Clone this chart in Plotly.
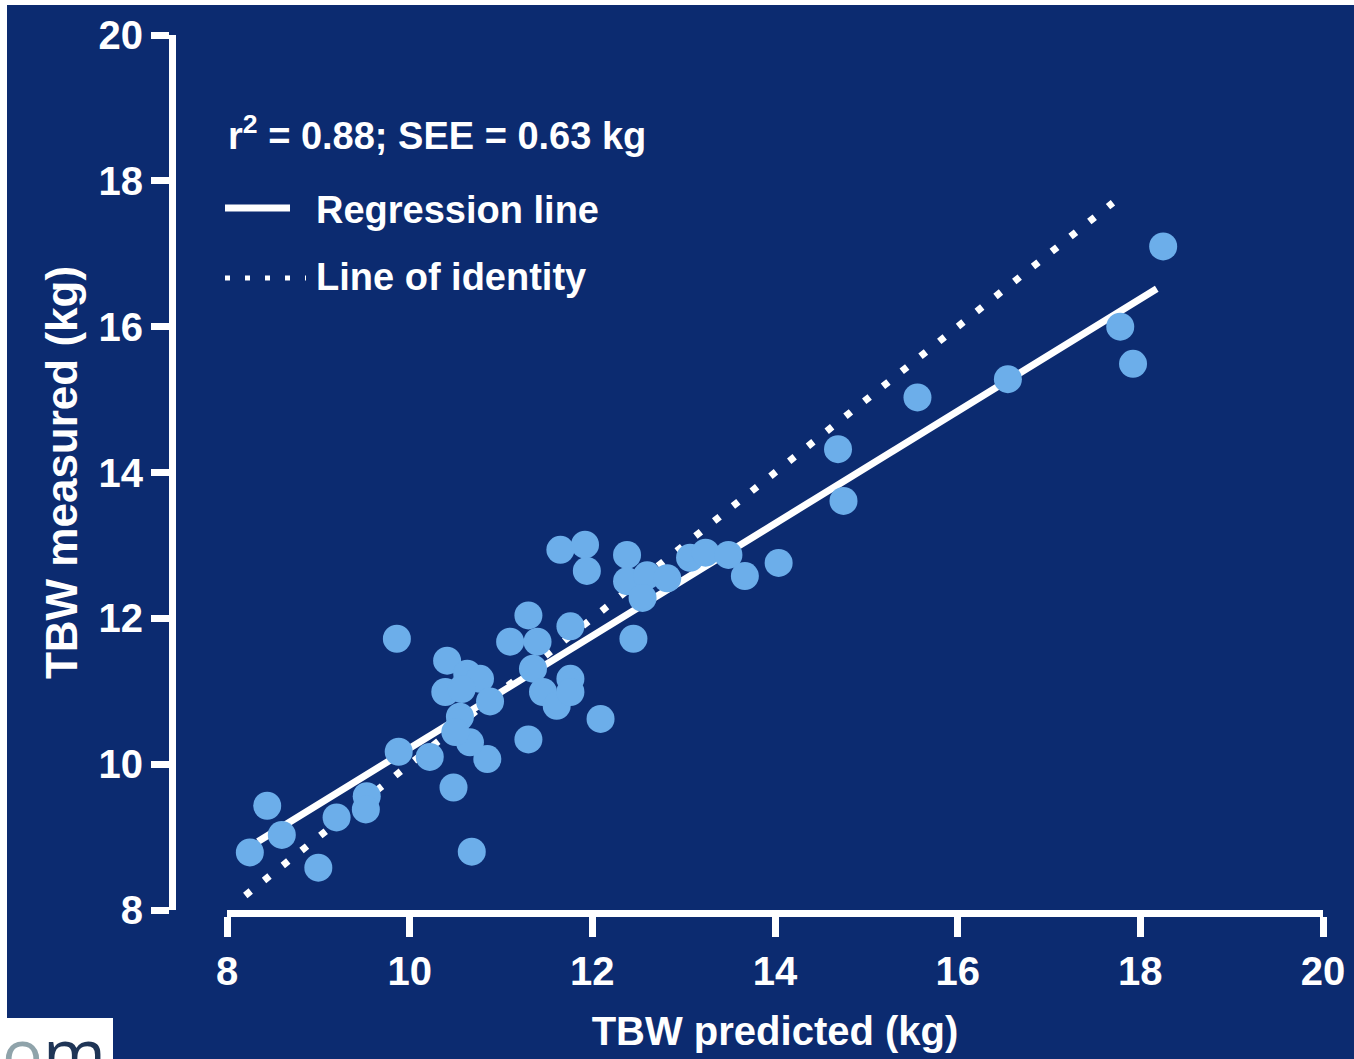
import plotly.graph_objects as go

# ---- data ----
x_pred = [8.25, 8.44, 8.60, 9.00, 9.20, 9.53, 9.52, 9.88, 10.22, 9.86,
          10.48, 10.68, 10.85, 10.41, 10.63, 10.77, 10.39, 10.88, 10.55, 10.66,
          10.57, 10.50, 11.10, 11.30, 11.40, 11.35, 11.46, 11.76, 11.61, 11.76,
          11.30, 11.76, 12.09, 11.65, 11.92, 11.94, 12.45, 12.38, 12.38, 12.60,
          12.55, 12.82, 13.07, 13.24, 13.49, 13.67, 14.04, 14.69, 14.75, 15.56,
          16.55, 17.78, 17.92, 18.25]
y_meas = [8.79, 9.43, 9.03, 8.58, 9.27, 9.56, 9.38, 10.17, 10.10, 11.72,
          9.68, 8.80, 10.07, 11.42, 11.24, 11.17, 10.99, 10.86, 10.65, 10.30,
          11.03, 10.44, 11.68, 12.04, 11.68, 11.31, 10.99, 11.17, 10.80, 10.99,
          10.34, 11.89, 10.62, 12.94, 13.01, 12.65, 11.72, 12.87, 12.51, 12.59,
          12.28, 12.55, 12.83, 12.90, 12.87, 12.58, 12.76, 14.32, 13.61, 15.03,
          15.28, 16.00, 15.49, 17.10]

reg_x = [8.34, 18.18]
reg_y = [8.94, 16.52]
ident_x = [8.2, 17.7]
ident_y = [8.2, 17.7]

tick_vals = [8, 10, 12, 14, 16, 18, 20]

stats_text = "r<sup>2</sup> = 0.88; SEE = 0.63 kg"
reg_name = "Regression line"
ident_name = "Line of identity"
x_title = "TBW predicted (kg)"
y_title = "TBW measured (kg)"

# ---- style ----
NAVY = "#0c2b70"
DOT = "#6caeea"
WHITE = "#ffffff"
FONT = "Liberation Sans, Arial, sans-serif"

W, H = 1354, 1059
L, R, T, B = 172, 31, 35, 149
PW = W - L - R
PH = H - T - B


def px(xp):
    return (xp - L) / PW


def py(yp):
    return (H - B - yp) / PH


fig = go.Figure()

fig.add_trace(go.Scatter(
    x=ident_x, y=ident_y, mode="lines", name=ident_name,
    line=dict(color=WHITE, width=7, dash="7px,17px"), showlegend=False,
    hoverinfo="skip"))
fig.add_trace(go.Scatter(
    x=reg_x, y=reg_y, mode="lines", name=reg_name,
    line=dict(color=WHITE, width=7), showlegend=False, hoverinfo="skip"))
fig.add_trace(go.Scatter(
    x=x_pred, y=y_meas, mode="markers", name="Subjects",
    marker=dict(color=DOT, size=28, line=dict(width=0)), showlegend=False))

axis_common = dict(
    showgrid=False, zeroline=False, showline=True, linecolor=WHITE,
    linewidth=7, ticks="outside", tickcolor=WHITE, tickwidth=7,
    tickvals=tick_vals, ticktext=[str(v) for v in tick_vals],
    range=[8, 20],
    tickfont=dict(family=FONT, size=40, color=WHITE, weight="bold"),
)

fig.update_layout(
    width=W, height=H,
    margin=dict(l=L, r=R, t=T, b=B, autoexpand=False),
    paper_bgcolor=NAVY, plot_bgcolor=NAVY,
    xaxis=dict(axis_common, domain=[55 / PW, 1], ticklen=20,
               ticklabelstandoff=0,
               title=dict(text=x_title, standoff=27,
                          font=dict(family=FONT, size=40, color=WHITE,
                                    weight="bold"))),
    yaxis=dict(axis_common, anchor="free", position=0, ticklen=18,
               ticklabelstandoff=0,
               title=dict(text=y_title, standoff=6,
                          font=dict(family=FONT, size=44, color=WHITE,
                                    weight="bold"))),
    showlegend=False,
)

# manual legend block
fig.add_annotation(x=px(226), y=py(133), xref="paper", yref="paper",
                   text=stats_text, showarrow=False, xanchor="left",
                   yanchor="middle",
                   font=dict(family=FONT, size=38, color=WHITE, weight="bold"))
fig.add_annotation(x=px(314), y=py(210), xref="paper", yref="paper",
                   text=reg_name, showarrow=False, xanchor="left",
                   yanchor="middle",
                   font=dict(family=FONT, size=38, color=WHITE, weight="bold"))
fig.add_annotation(x=px(314), y=py(277), xref="paper", yref="paper",
                   text=ident_name, showarrow=False, xanchor="left",
                   yanchor="middle",
                   font=dict(family=FONT, size=38, color=WHITE, weight="bold"))
fig.add_shape(type="line", xref="paper", yref="paper",
              x0=px(225), x1=px(290), y0=py(208), y1=py(208),
              line=dict(color=WHITE, width=7))
fig.add_shape(type="line", xref="paper", yref="paper",
              x0=px(225), x1=px(306), y0=py(278), y1=py(278),
              line=dict(color=WHITE, width=5, dash="5px,15px"))

# white frame edges of the original screenshot and the logo box
fig.add_shape(type="rect", xref="paper", yref="paper", layer="above",
              x0=px(0), x1=px(W), y0=py(5), y1=py(0),
              fillcolor=WHITE, line=dict(width=0))
fig.add_shape(type="rect", xref="paper", yref="paper", layer="above",
              x0=px(0), x1=px(7), y0=py(H), y1=py(0),
              fillcolor=WHITE, line=dict(width=0))
fig.add_shape(type="rect", xref="paper", yref="paper", layer="above",
              x0=px(0), x1=px(113), y0=py(H), y1=py(1018),
              fillcolor=WHITE, line=dict(width=0))
fig.add_annotation(x=px(54), y=py(1003), xref="paper", yref="paper",
                   text="<span style='color:#8fa3aa'>o</span>m",
                   showarrow=False, xanchor="center", yanchor="top",
                   font=dict(family="Open Sans, sans-serif", size=68,
                             color="#1f3556"))

fig.write_html("out.html",
               config={"displayModeBar": False},
               post_script="document.body.style.margin='0px';"
                           "document.body.style.overflow='hidden';")
